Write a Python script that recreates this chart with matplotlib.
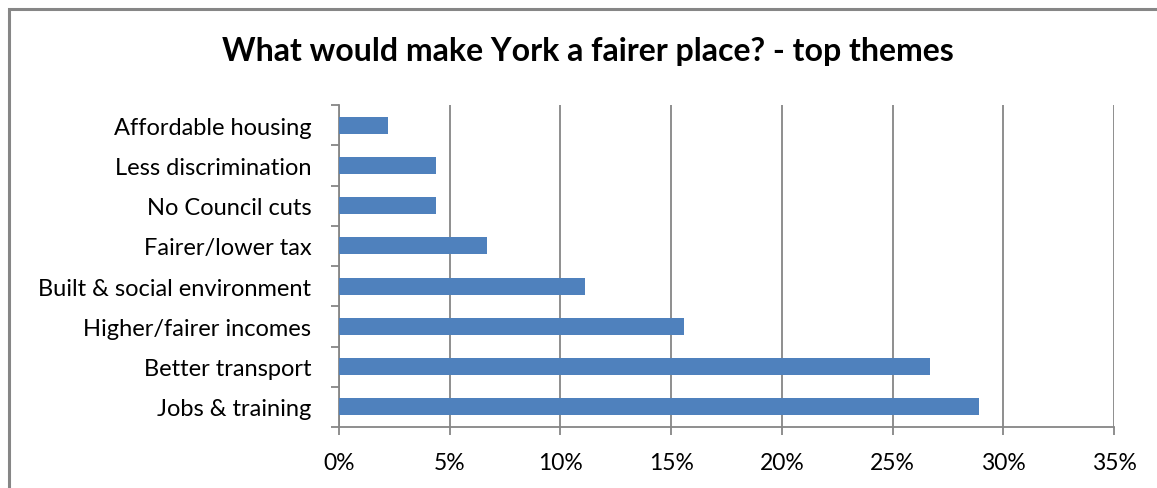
import matplotlib
matplotlib.use("Agg")
import matplotlib.pyplot as plt
from matplotlib.patches import Rectangle
from matplotlib.ticker import FixedLocator, PercentFormatter

plt.rcParams['font.family'] = ['Lato', 'DejaVu Sans']

# 主题及占比（%）
themes = ["Jobs & training", "Better transport", "Higher/fairer incomes",
          "Built & social environment", "Fairer/lower tax", "No Council cuts",
          "Less discrimination", "Affordable housing"]
shares = [28.9, 26.7, 15.6, 11.1, 6.7, 4.4, 4.4, 2.2]
x_ticks = [0, 5, 10, 15, 20, 25, 30, 35]

title = "What would make York a fairer place? - top themes"
bar_color = "#4F81BD"
grey = "#868686"

fig = plt.figure(figsize=(11.57, 4.89), dpi=100)
ax = fig.add_axes([339 / 1157, 61 / 489, 775 / 1157, 322 / 489])

# 外框
fig.patches.append(Rectangle((8.5 / 1157, -0.1), 1.2, (479.5 / 489) + 0.1,
                             transform=fig.transFigure, fill=False,
                             edgecolor=grey, linewidth=2.2, zorder=0))

pos = list(range(len(themes)))
ax.barh(pos, shares, height=0.42, color=bar_color, zorder=3)

ax.set_xlim(0, 35)
ax.set_ylim(-0.5, len(themes) - 0.5)
ax.xaxis.set_major_locator(FixedLocator(x_ticks))
ax.xaxis.set_major_formatter(PercentFormatter(decimals=0))
ax.set_yticks(pos)
ax.set_yticklabels(themes)
ax.yaxis.set_minor_locator(FixedLocator([p - 0.5 for p in pos] + [len(themes) - 0.5]))

ax.grid(axis='x', color=grey, linewidth=1.3, zorder=0)
for side in ['top', 'right']:
    ax.spines[side].set_visible(False)
for side in ['left', 'bottom']:
    ax.spines[side].set_color(grey)
    ax.spines[side].set_linewidth(1.3)

ax.tick_params(axis='x', which='major', length=6, width=1.3, color=grey,
               labelsize=16.5, pad=12)
ax.tick_params(axis='y', which='major', length=0, labelsize=17, pad=20)
ax.tick_params(axis='y', which='minor', length=6, width=1.3, color=grey)

fig.text(588 / 1157, 1 - 52 / 489, title, ha='center', va='center',
         fontsize=23, fontweight='bold')

fig.savefig("out.png", dpi=100)
